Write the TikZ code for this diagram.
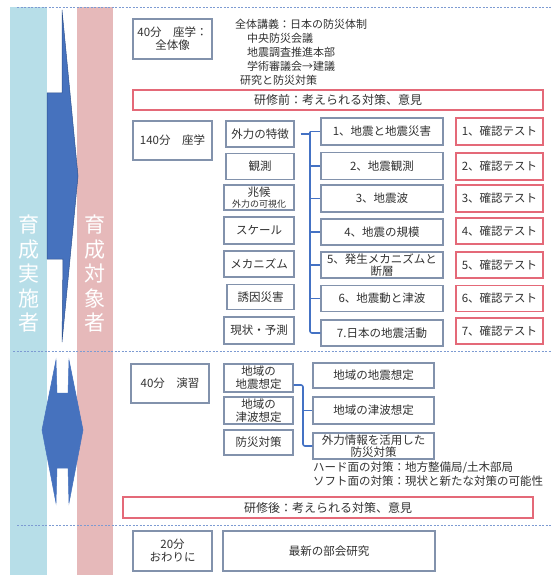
\documentclass[tikz,border=0pt]{standalone}
\usepackage{fontspec}
\setmainfont{Noto Sans CJK JP}
\definecolor{lblue}{RGB}{183,222,232}
\definecolor{lpink}{RGB}{230,185,186}
\definecolor{bluearr}{RGB}{70,114,190}
\definecolor{bluedk}{RGB}{47,82,143}
\definecolor{boxc}{RGB}{130,146,172}
\definecolor{redc}{RGB}{228,105,120}
\definecolor{dashc}{RGB}{125,155,210}
\definecolor{txt}{RGB}{50,50,50}
\definecolor{bluec}{RGB}{68,114,196}
\begin{document}
\begin{tikzpicture}[x=1pt,y=-1pt,
  box/.style={draw=boxc, line width=1.1pt, fill=white, inner sep=0pt, align=center, text=txt, font=\fontsize{11.5}{13}\selectfont},
  rbox/.style={box, draw=redc},
  conn/.style={draw=bluec, line width=1.6pt},
  dline/.style={draw=dashc, line width=0.8pt, dash pattern=on 2pt off 1.5pt},
  plain/.style={inner sep=0pt, text=txt, font=\fontsize{11}{14}\selectfont, anchor=west},
  bandtxt/.style={text=white, align=center, inner sep=0pt, font=\fontsize{21}{24.5}\selectfont}]
\useasboundingbox (0,0) rectangle (552,575);
\fill[white] (0,0) rectangle (552,575);
% bands
\fill[lblue] (10,7) rectangle (47,575);
\fill[lpink] (77,7) rectangle (113,575);
% arrows
\filldraw[fill=bluearr, draw=bluedk, line width=0.5pt] (62,10) -- (78,176) -- (62,342) -- (63,259) -- (47,259) -- (47,93) -- (62,93) -- cycle;
\filldraw[fill=bluearr, draw=bluearr, line width=0.5pt] (56,360) -- (57,393) -- (68,393) -- (69,360) -- (83,430) -- (69,503) -- (68,468) -- (57,468) -- (56,503) -- (42,430) -- cycle;
\node[bandtxt] (ba) at (28.5,274) {育\\成\\実\\施\\者};
\node[bandtxt] (bb) at (95,274) {育\\成\\対\\象\\者};
% dashed separators
\draw[dline] (17,7) -- (552,7);
\draw[dline] (13,351) -- (552,351);
\draw[dline] (17,525) -- (552,525);
% section 1
\node[box, minimum width=79pt, minimum height=40pt] (A) at (172.5,39) {40分　座学：\\全体像};
\node[plain] (t1) at (235,24) {全体講義：日本の防災体制};
\node[plain] (t2) at (247,38) {中央防災会議};
\node[plain] (t3) at (247,52) {地震調査推進本部};
\node[plain] (t4) at (247,66) {学術審議会→建議};
\node[plain] (t5) at (240,80) {研究と防災対策};
\node[rbox, minimum width=410pt, minimum height=20pt, font=\fontsize{12}{14}\selectfont] (B) at (338,100) {研修前：考えられる対策、意見};
% section 2
\node[box, minimum width=79pt, minimum height=39pt] (C) at (172.5,140.5) {140分　座学};
\node[box, minimum width=68pt, minimum height=26pt] (L1) at (260,134) {外力の特徴};
\node[box, minimum width=68pt, minimum height=26pt] (L2) at (260,166.5) {観測};
\node[box, minimum width=70pt, minimum height=25pt, font=\fontsize{11.5}{11.5}\selectfont] (L3) at (259,197.5) {兆候\\{\fontsize{9}{10}\selectfont 外力の可視化}};
\node[box, minimum width=70pt, minimum height=27pt] (L4) at (259,230.5) {スケール};
\node[box, minimum width=70pt, minimum height=26pt] (L5) at (259,264) {メカニズム};
\node[box, minimum width=67pt, minimum height=25pt] (L6) at (260.5,297) {誘因災害};
\node[box, minimum width=70pt, minimum height=27pt] (L7) at (259,330.5) {現状・予測};
\node[box, minimum width=122pt, minimum height=27pt] (M1) at (382,131.5) {1、地震と地震災害};
\node[box, minimum width=122pt, minimum height=27pt] (M2) at (382,166) {2、地震観測};
\node[box, minimum width=122pt, minimum height=27pt] (M3) at (382,198.5) {3、地震波};
\node[box, minimum width=122pt, minimum height=26pt] (M4) at (382,232) {4、地震の規模};
\node[box, minimum width=122pt, minimum height=26pt, font=\fontsize{11.5}{12}\selectfont] (M5) at (382,265) {5、発生メカニズムと\\断層};
\node[box, minimum width=122pt, minimum height=26pt] (M6) at (382,298.5) {6、地震動と津波};
\node[box, minimum width=122pt, minimum height=26pt] (M7) at (382,333) {7.日本の地震活動};
\node[rbox, minimum width=87pt, minimum height=27pt] (R1) at (499.5,131.5) {1、確認テスト};
\node[rbox, minimum width=87pt, minimum height=27pt] (R2) at (499.5,166.5) {2、確認テスト};
\node[rbox, minimum width=87pt, minimum height=27pt] (R3) at (499.5,198.5) {3、確認テスト};
\node[rbox, minimum width=87pt, minimum height=26pt] (R4) at (499.5,231) {4、確認テスト};
\node[rbox, minimum width=87pt, minimum height=26pt] (R5) at (499.5,265) {5、確認テスト};
\node[rbox, minimum width=87pt, minimum height=26pt] (R6) at (499.5,298.5) {6、確認テスト};
\node[rbox, minimum width=87pt, minimum height=26pt] (R7) at (499.5,331) {7、確認テスト};
\coordinate (tk) at (310,131.5);
\draw[conn] ([xshift=6pt]L1.east) -- (L1.east -| tk);
\draw[conn, rounded corners=2pt] (M1.west -| tk) -- (M7.west -| tk) -- (M7.west);
\foreach \i in {1,...,6} {\draw[conn] (M\i.west -| tk) -- (M\i.west);}
% section 3
\node[box, minimum width=78pt, minimum height=39pt] (D) at (170,383.5) {40分　演習};
\node[box, minimum width=69pt, minimum height=28pt] (E1) at (258.5,378) {地域の\\地震想定};
\node[box, minimum width=69pt, minimum height=27pt] (E2) at (258.5,410.5) {地域の\\津波想定};
\node[box, minimum width=69pt, minimum height=25pt] (E3) at (258.5,442.5) {防災対策};
\node[box, minimum width=121pt, minimum height=25pt] (F1) at (373.5,375.5) {地域の地震想定};
\node[box, minimum width=121pt, minimum height=27pt] (F2) at (373.5,410.5) {地域の津波想定};
\node[box, minimum width=121pt, minimum height=26pt, font=\fontsize{11.5}{12}\selectfont] (F3) at (373.5,446) {外力情報を活用した\\防災対策};
\coordinate (tk2) at (303,400);
\draw[conn, rounded corners=2pt] ([yshift=-7pt]E1.east) -- ([yshift=-7pt]E1.east -| tk2) -- (F3.west -| tk2) -- (F3.west);
\draw[conn] (F2.west -| tk2) -- (F2.west);
\node[plain, font=\fontsize{11.5}{14}\selectfont] (h1) at (313,468) {ハード面の対策：地方整備局/土木部局};
\node[plain, font=\fontsize{11.5}{14}\selectfont] (h2) at (313,481) {ソフト面の対策：現状と新たな対策の可能性};
\node[rbox, minimum width=410pt, minimum height=21pt, font=\fontsize{12}{14}\selectfont] (G) at (328,507.5) {研修後：考えられる対策、意見};
% section 4
\node[box, minimum width=79pt, minimum height=40pt] (H) at (172.5,551) {20分\\おわりに};
\node[box, minimum width=212pt, minimum height=40pt] (I) at (329,551) {最新の部会研究};
\end{tikzpicture}
\end{document}
